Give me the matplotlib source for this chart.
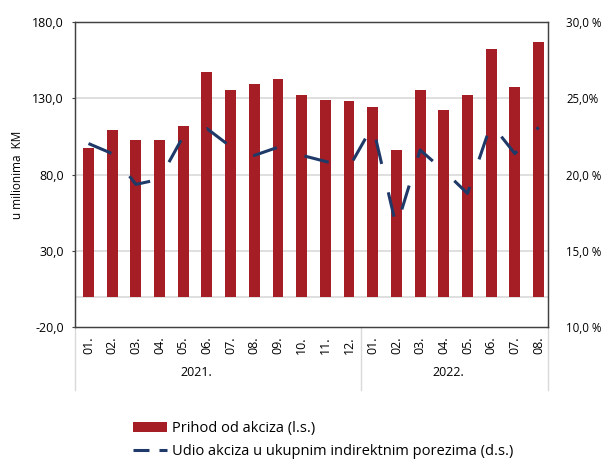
import matplotlib
matplotlib.use('Agg')
import matplotlib.pyplot as plt
from matplotlib.patches import Patch
from matplotlib.lines import Line2D

plt.rcParams['font.family'] = ['Open Sans', 'DejaVu Sans']
plt.rcParams['lines.scale_dashes'] = False

# data
months = ['01.', '02.', '03.', '04.', '05.', '06.', '07.', '08.', '09.', '10.', '11.', '12.',
          '01.', '02.', '03.', '04.', '05.', '06.', '07.', '08.']
years = ['2021.', '2022.']
prihod = [97.2, 109.4, 102.4, 102.9, 112.0, 147.3, 135.6, 139.5, 142.7, 132.3, 129.0, 128.4,
          124.4, 96.3, 135.6, 122.5, 132.3, 162.4, 137.5, 166.9]
udio = [22.03, 21.37, 19.35, 19.69, 22.51, 23.01, 21.83, 21.25, 21.79, 21.26, 20.86, 20.46,
        23.20, 16.55, 21.61, 20.25, 18.76, 23.33, 21.37, 23.10]
left_ticks = [-20, 30, 80, 130, 180]
right_ticks = [10, 15, 20, 25, 30]
right_labels = ['10,0 %', '15,0 %', '20,0 %', '25,0%', '30,0 %']

bar_col = '#A51D25'
line_col = '#1F3A68'
grid_col = '#D9D9D9'
frame_col = '#404040'

fig = plt.figure(figsize=[6.01, 4.59], dpi=100)
ax = fig.add_axes([75/601, 1-327/459, 473/601, 305/459])
x = list(range(len(months)))

ax.set_ylim(-20, 180)
ax.set_xlim(-0.57, 19.4)
ax.set_yticks(left_ticks)
ax.set_yticklabels([('%.1f' % v).replace('.', ',') for v in left_ticks], fontsize=9)
for v in [0, 30, 80, 130]:
    ax.axhline(v, color=grid_col, lw=1.2, zorder=0)
ax.bar(x, prihod, width=0.46, color=bar_col, zorder=2)
ax.set_ylabel('u milionima  KM', fontsize=8.5)
ax.yaxis.set_label_coords(-0.108, 0.5)

ax.set_xticks(x)
ax.set_xticklabels(months, rotation=90, fontsize=9)
ax.tick_params(axis='x', length=0, pad=7)
ax.tick_params(axis='y', length=2, pad=6, color=frame_col)
for s in ax.spines.values():
    s.set_color(frame_col)
    s.set_linewidth(0.9)

# category separators below axis
tr = ax.get_xaxis_transform()
for xv in [-0.57, 11.5, 19.4]:
    ax.plot([xv, xv], [0, -0.207], transform=tr, color=grid_col, lw=1, clip_on=False)
ax.text(0.256, -0.148, years[0], transform=ax.transAxes, ha='center', va='center', fontsize=9)
ax.text(0.79, -0.148, years[1], transform=ax.transAxes, ha='center', va='center', fontsize=9)

ax2 = ax.twinx()
ax2.set_ylim(10, 30)
ax2.set_yticks(right_ticks)
ax2.set_yticklabels(right_labels, fontsize=8.3)
ax2.tick_params(axis='y', length=0, pad=13)
for s in ax2.spines.values():
    s.set_color(frame_col)
    s.set_linewidth(0.9)
ax2.plot(x, udio, color=line_col, lw=2.2, dashes=(18.0, 21.0),
         solid_joinstyle='round', dash_joinstyle='round', dash_capstyle='butt', zorder=3)

handles = [Patch(facecolor=bar_col, edgecolor='none'),
           Line2D([], [], color=line_col, lw=2.2, dashes=(11.5, 7.2))]
fig.legend(handles, ['Prihod od akciza (l.s.)', 'Udio akciza u ukupnim indirektnim porezima (d.s.)'],
           loc='upper left', bbox_to_anchor=(133/601, 1-421/459), frameon=False,
           fontsize=10.5, handlelength=2.33, handleheight=0.68, handletextpad=0.34,
           labelspacing=0.58, borderpad=0, borderaxespad=0)

fig.savefig('out.png', dpi=100)
